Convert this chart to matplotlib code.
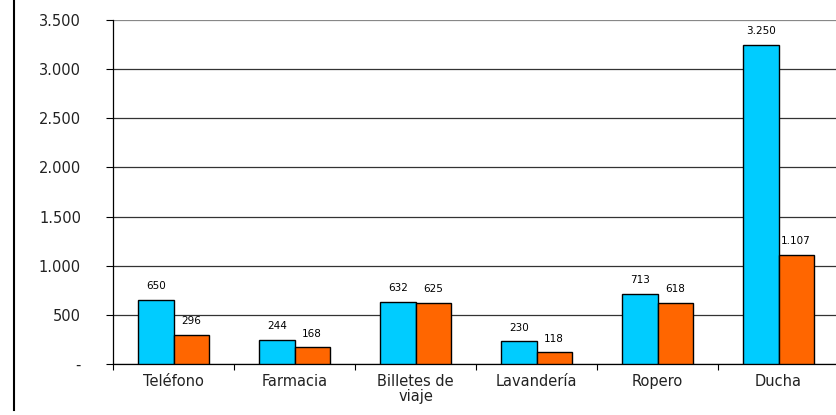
import matplotlib
matplotlib.use("Agg")
from matplotlib import pyplot as plt
from matplotlib.lines import Line2D
import numpy as np

categories = ["Teléfono", "Farmacia", "Billetes de\nviaje", "Lavandería", "Ropero", "Ducha"]
serie_a = [650, 244, 632, 230, 713, 3250]
serie_b = [296, 168, 625, 118, 618, 1107]
y_ticks = [0, 500, 1000, 1500, 2000, 2500, 3000, 3500]
y_labels = ["-", "500", "1.000", "1.500", "2.000", "2.500", "3.000", "3.500"]

plt.rcParams["font.family"] = ["DejaVu Sans"]

fig = plt.figure(figsize=(8.36, 4.15), dpi=100)
ax = fig.add_axes([113 / 836, 1 - 364 / 415, 726 / 836, 344 / 415])

x = np.arange(len(categories))
w = 0.29
ax.bar(x - w / 2, serie_a, w, color="#00CCFF", edgecolor="black", linewidth=1.0, zorder=3)
ax.bar(x + w / 2, serie_b, w, color="#FF6600", edgecolor="black", linewidth=1.0, zorder=3)


def fmt(v):
    return f"{v:,}".replace(",", ".")


for xi, a, b in zip(x, serie_a, serie_b):
    ax.text(xi - w / 2, a + 90, fmt(a), ha="center", va="bottom", fontsize=7.5)
    ax.text(xi + w / 2, b + 90, fmt(b), ha="center", va="bottom", fontsize=7.5)

ax.set_xlim(-0.5, len(categories) - 0.5)
ax.set_ylim(0, 3500)
ax.set_yticks(y_ticks)
ax.set_yticklabels(y_labels, fontsize=10.5, color="#222222")
ax.tick_params(axis="y", length=5, width=0.8, pad=18)
ax.yaxis.grid(True, color="#333333", linewidth=0.9, zorder=0)

ax.set_xticks(x)
ax.set_xticklabels(categories, fontsize=10.5, linespacing=1.05, color="#222222")
ax.tick_params(axis="x", length=0, pad=7)
ax.set_xticks(np.arange(len(categories) + 1) - 0.5, minor=True)
ax.tick_params(axis="x", which="minor", length=4, width=0.8)

for side in ["top", "right"]:
    ax.spines[side].set_visible(False)
ax.spines["left"].set_color("black")
ax.spines["bottom"].set_color("black")
ax.spines["left"].set_linewidth(0.9)
ax.spines["bottom"].set_linewidth(0.9)
ax.get_ygridlines()[-1].set_color("#888888")

fig.add_artist(Line2D([13.5 / 836, 13.5 / 836], [1, 5 / 415], color="black", linewidth=1.5))

fig.savefig("out.png", dpi=100)
